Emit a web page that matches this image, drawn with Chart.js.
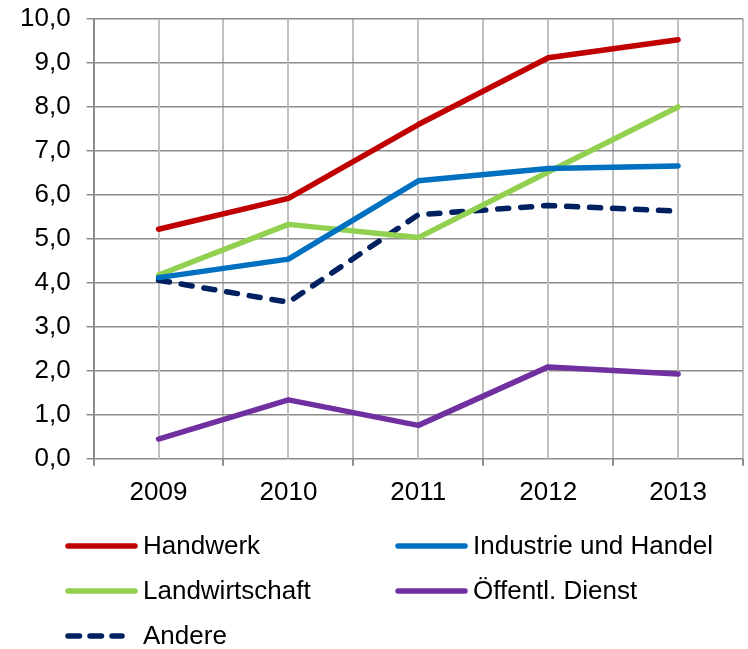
<!DOCTYPE html>
<html>
<head>
<meta charset="utf-8">
<script src="https://cdn.jsdelivr.net/npm/chart.js@4.4.1/dist/chart.umd.min.js"></script>
<style>
  html, body { margin: 0; padding: 0; background: #fff; }
  #wrap { width: 748px; height: 649px; position: relative; }
</style>
</head>
<body>
<div id="wrap"><canvas id="chart"></canvas></div>
<script>
// data
var years = ['2009', '2010', '2011', '2012', '2013'];
var handwerk = [5.22, 5.92, 7.6, 9.12, 9.53];
var industrie = [4.12, 4.54, 6.32, 6.6, 6.66];
var landwirtschaft = [4.18, 5.33, 5.03, 6.52, 8.0];
var oeffentlich = [0.45, 1.34, 0.76, 2.09, 1.93];
var andere = [4.06, 3.56, 5.55, 5.76, 5.63];

var FONT = "'Liberation Sans', Arial, sans-serif";

function series(label, data, color, dash) {
    return {
        label: label,
        data: data,
        borderColor: color,
        backgroundColor: color,
        borderWidth: 5.5,
        borderDash: dash || [],
        borderCapStyle: 'round',
        borderJoinStyle: 'round',
        pointRadius: 0,
        tension: 0,
        fill: false
    };
}

// extra vertical lines through the middle of each category
var centerLines = {
    id: 'centerLines',
    beforeDatasetsDraw: function (chart) {
        var ctx = chart.ctx, area = chart.chartArea, xs = chart.scales.x;
        ctx.save();
        ctx.strokeStyle = '#c0c0c0';
        ctx.lineWidth = 2;
        chart.data.labels.forEach(function (l, i) {
            var px = Math.round(xs.getPixelForValue(i));
            ctx.beginPath();
            ctx.moveTo(px, area.top);
            ctx.lineTo(px, area.bottom);
            ctx.stroke();
        });
        ctx.restore();
    }
};

// legend in two columns below the plot
var legendPlugin = {
    id: 'twoColLegend',
    afterDraw: function (chart) {
        var ctx = chart.ctx;
        var cols = [65, 395];
        var rows = [546, 591, 636];
        ctx.save();
        chart.data.datasets.forEach(function (ds, i) {
            var x = cols[i % 2], y = rows[Math.floor(i / 2)];
            var dashed = ds.borderDash.length > 0;
            ctx.strokeStyle = ds.borderColor;
            ctx.lineWidth = 5.5;
            ctx.lineCap = 'round';
            ctx.setLineDash(dashed ? [11.5, 10.5] : []);
            ctx.beginPath();
            ctx.moveTo(x + 3, y);
            ctx.lineTo(dashed ? x + 57 : x + 70, y);
            ctx.stroke();
            ctx.setLineDash([]);
            ctx.fillStyle = '#000';
            ctx.font = '26px ' + FONT;
            ctx.textBaseline = 'middle';
            ctx.fillText(ds.label, x + 78, y + 1);
        });
        ctx.restore();
    }
};

var ctx1 = document.getElementById('chart').getContext('2d');
var myChart = new Chart(ctx1, {
    type: 'line',
    data: {
        labels: years,
        datasets: [
            series('Handwerk', handwerk, '#c00000'),
            series('Industrie und Handel', industrie, '#0070c0'),
            series('Landwirtschaft', landwirtschaft, '#92d050'),
            series('Öffentl. Dienst', oeffentlich, '#7030a0'),
            series('Andere', andere, '#002060', [11, 12])
        ]
    },
    options: {
        responsive: true,
        maintainAspectRatio: false,
        animation: false,
        layout: { padding: { top: 19, right: 5, bottom: 130, left: 4 } },
        plugins: {
            legend: { display: false },
            tooltip: { enabled: false }
        },
        scales: {
            x: {
                type: 'category',
                offset: true,
                grid: {
                    offset: true,
                    color: '#c0c0c0',
                    lineWidth: 2,
                    tickColor: '#8c8c8c',
                    tickLength: 7
                },
                border: { display: false },
                ticks: {
                    color: '#000',
                    padding: 11,
                    font: { family: FONT, size: 26 }
                }
            },
            y: {
                min: 0,
                max: 10,
                ticks: {
                    stepSize: 1,
                    color: '#000',
                    padding: 16,
                    font: { family: FONT, size: 26, lineHeight: 0.2 },
                    callback: function (v) { return v.toFixed(1).replace('.', ','); }
                },
                grid: {
                    color: '#8c8c8c',
                    lineWidth: 1.5,
                    tickLength: 7
                },
                border: { color: '#8c8c8c', width: 2 }
            }
        }
    },
    plugins: [centerLines, legendPlugin]
});
</script>
</body>
</html>
